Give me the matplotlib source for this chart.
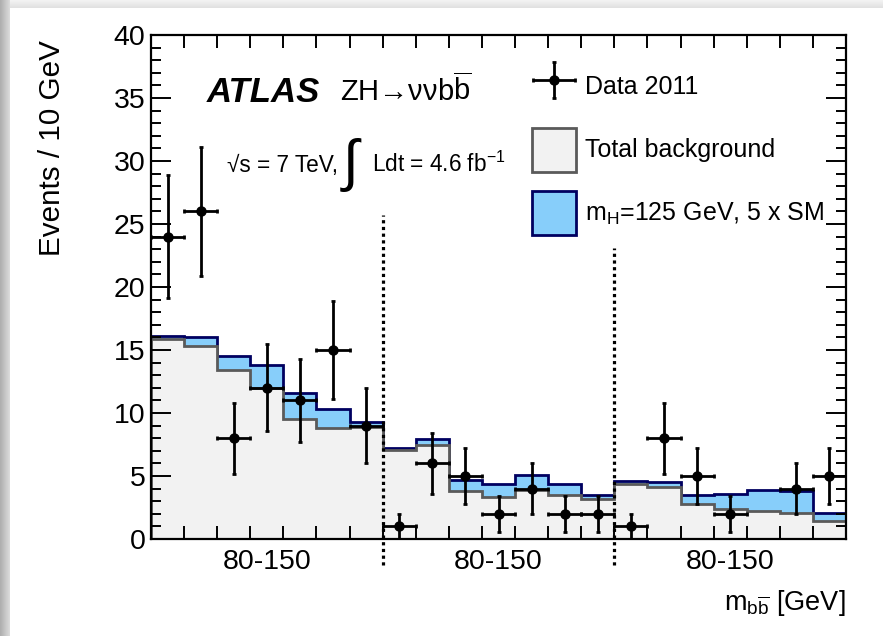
from matplotlib import pyplot
from matplotlib.patches import Patch
from matplotlib.legend_handler import HandlerErrorbar
import numpy

pyplot.rcParams['font.family'] = ['Liberation Sans', 'DejaVu Sans']
pyplot.rcParams['mathtext.fontset'] = 'custom'
pyplot.rcParams['mathtext.rm'] = 'Liberation Sans'
pyplot.rcParams['mathtext.it'] = 'Liberation Sans:italic'
pyplot.rcParams['mathtext.bf'] = 'Liberation Sans:bold'

# three regions of 7 bins each (80-150 GeV, 10 GeV bins)
region_labels = ['80-150', '80-150', '80-150']
bins_per_region = 7

background = [15.9, 15.3, 13.4, 12.0, 9.5, 8.8, 8.9,
              7.1, 7.5, 3.8, 3.3, 3.9, 3.5, 3.15,
              4.35, 4.15, 2.8, 2.35, 2.2, 2.1, 1.4]
signal = [0.2, 0.7, 1.1, 1.8, 2.1, 1.5, 0.4,
          0.1, 0.45, 0.9, 1.05, 1.2, 0.85, 0.35,
          0.25, 0.4, 0.7, 1.2, 1.7, 1.7, 0.7]
data = [24, 26, 8, 12, 11, 15, 9,
        1, 6, 5, 2, 4, 2, 2,
        1, 8, 5, 2, 0, 4, 5]

W, H = 883, 636
fig = pyplot.figure(figsize=(W / 100, H / 100), dpi=100)

# slide-like grey border on left and top
left_strip = fig.add_axes([0, 0, 10 / W, 1])
left_strip.imshow(numpy.linspace(0.68, 0.86, 20).reshape(1, -1), cmap='gray',
                  vmin=0, vmax=1, aspect='auto', extent=(0, 1, 0, 1))
left_strip.axis('off')
top_strip = fig.add_axes([10 / W, 1 - 8 / H, 1 - 10 / W, 8 / H])
top_strip.imshow(numpy.linspace(0.95, 0.88, 10).reshape(-1, 1), cmap='gray',
                 vmin=0, vmax=1, aspect='auto', extent=(0, 1, 0, 1))
top_strip.axis('off')

ax = fig.add_axes([151 / W, 1 - 539 / H, (846 - 151) / W, (539 - 35) / H])

background = numpy.array(background)
signal = numpy.array(signal)
data = numpy.array(data, dtype=float)
nbins = len(background)
edges = numpy.arange(nbins + 1)
centers = edges[:-1] + 0.5

ax.stairs(background + signal, edges, baseline=0, fill=True,
          facecolor='#87cefa', edgecolor='#000060', linewidth=2)
ax.stairs(background, edges, baseline=0, fill=True,
          facecolor='#f2f2f2', edgecolor='#5a5a5a', linewidth=2)

nz = data > 0
eb = ax.errorbar(centers[nz], data[nz], xerr=0.5, yerr=numpy.sqrt(data[nz]),
                 fmt='o', color='black', ms=6.5, elinewidth=2, capsize=1.5,
                 capthick=2, zorder=5)

for k in range(1, len(region_labels)):
    xd = k * bins_per_region
    ytop = 25.7 if k == 1 else 23.1
    ax.plot([xd, xd], [-2.1, ytop], color='black', linewidth=2.3,
            linestyle=(0, (1, 1.1)), clip_on=False, zorder=6)

ax.set_xlim(0, nbins)
ax.set_ylim(0, 40)
ax.set_xticks(edges, minor=True)
ax.set_xticks([(k + 0.5) * bins_per_region for k in range(len(region_labels))])
ax.set_xticklabels(region_labels)
ax.tick_params(axis='x', which='major', length=0, pad=7, labelsize=20.5)
ax.tick_params(axis='x', which='minor', direction='in', length=9.5, width=1.4,
               top=True, bottom=True)
ax.set_yticks(numpy.arange(0, 41, 5))
ax.set_yticks(numpy.arange(0, 41, 1), minor=True)
ax.tick_params(axis='y', which='major', direction='in', length=14.5, width=1.4,
               left=True, right=True, labelsize=20.5, pad=4)
ax.tick_params(axis='y', which='minor', direction='in', length=7.5, width=1.4,
               left=True, right=True)
for sp in ax.spines.values():
    sp.set_linewidth(1.6)

# labels
fig.text(207 / W, 1 - 102 / H, 'ATLAS', fontsize=25, fontweight='bold',
         fontstyle='italic', va='baseline')
fig.text(340 / W, 1 - 101 / H, 'ZH\u2192\u03bd\u03bdb$\\overline{\\mathrm{b}}$',
         fontsize=21, va='baseline')
fig.text(227 / W, 1 - 172 / H, '\u221as = 7 TeV,', fontsize=16.3, va='baseline')
fig.text(343 / W, 1 - 165 / H, '\u222b', fontsize=41, va='center')
fig.text(372 / W, 1 - 172 / H, r'Ldt = 4.6 fb$^{\mathrm{-1}}$', fontsize=16.3,
         va='baseline')

fig.text(52 / W, 1 - 40 / H, 'Events / 10 GeV', rotation=90, fontsize=21.3,
         ha='center', va='top')
fig.text(846 / W, 1 - 610 / H, r'$\mathrm{m}_{\mathrm{b\overline{b}}}$ [GeV]',
         fontsize=19.5, ha='right', va='baseline')

handles = [eb,
           Patch(facecolor='#f2f2f2', edgecolor='#5a5a5a', linewidth=2),
           Patch(facecolor='#87cefa', edgecolor='#000060', linewidth=2)]
labels = ['Data 2011', 'Total background', r'm$_{\mathrm{H}}$=125 GeV, 5 x SM']
ax.legend(handles, labels, loc='upper left', frameon=False, fontsize=18,
          bbox_to_anchor=(532 / W, 1 - 65 / H), bbox_transform=fig.transFigure,
          borderpad=0, borderaxespad=0, handlelength=1.76, handleheight=2.3,
          labelspacing=0.78, handletextpad=0.35,
          handler_map={eb: HandlerErrorbar(xerr_size=0.85, yerr_size=0.72)})

fig.savefig('out.png', dpi=100)
